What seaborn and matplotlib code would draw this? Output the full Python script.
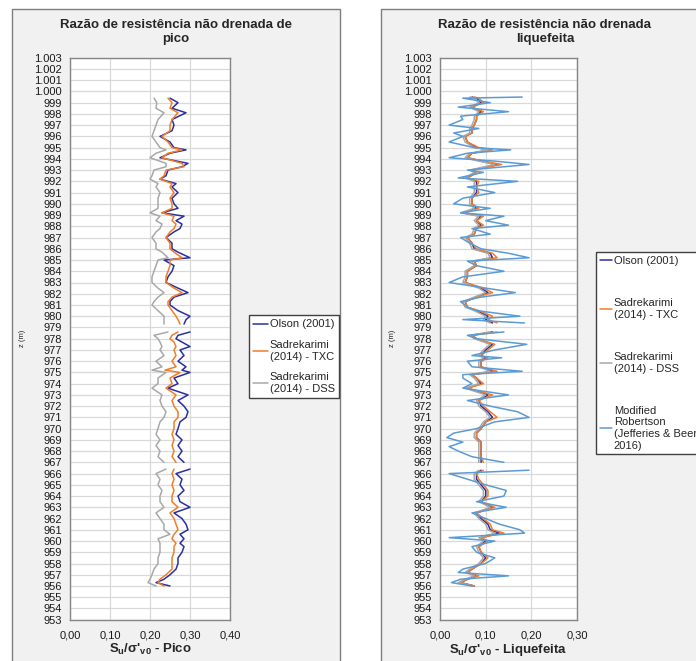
import numpy as np
import pandas as pd
import seaborn as sns
import matplotlib.pyplot as plt
from matplotlib.lines import Line2D
from matplotlib.patches import Rectangle

# Profundidades (m) - grafico de pico
pico_z = [999.4, 999.0, 998.5, 998.1, 997.5, 997.0, 996.5, 996.0, 995.5, 995.0,
          994.8, 994.5, 994.1, 993.6, 993.3, 993.0, 992.5, 992.2, 991.8, 991.5,
          991.0, 990.5, 990.0, 989.6, 989.2, 988.9, 988.5, 988.2, 987.8, 987.5,
          987.0, 986.5, 986.0, 985.7, 985.2, 985.0, 984.5, 984.0, 983.5, 983.0,
          982.5, 982.1, 981.7, 981.3, 981.0, 980.5, 980.0, 979.7, 979.3, 978.6,
          978.3, 978.0, 977.7, 977.3, 977.0, 976.5, 976.0, 975.5, 975.2, 975.0,
          974.5, 974.0, 973.6, 973.0, 972.5, 972.0, 971.5, 971.0, 970.6, 970.0,
          969.5, 969.0, 968.5, 968.0, 967.5, 967.0, 966.4, 966.0, 965.5, 965.0,
          964.5, 964.0, 963.5, 963.0, 962.5, 962.0, 961.5, 961.0, 960.6, 960.2,
          959.8, 959.5, 959.0, 958.5, 958.0, 957.5, 957.0, 956.6, 956.3, 956.0]

pico_olson = [.25, .27, .255, .29, .255, .26, .255, .225, .25, .26,
              .29, .25, .225, .295, .28, .245, .24, .225, .265, .255,
              .27, .255, .26, .27, .23, .285, .265, .28, .275, .26,
              .24, .255, .255, .27, .30, .235, .26, .255, .245, .24,
              .27, .295, .26, .25, .25, .27, .30, .29, .285, .30,
              .27, .265, .28, .30, .275, .285, .27, .29, .28, .30,
              .26, .27, .245, .295, .27, .285, .295, .29, .275, .27,
              .265, .28, .27, .28, .27, .285, .30, .265, .28, .275,
              .285, .27, .275, .30, .26, .28, .29, .295, .275, .285,
              .275, .285, .28, .27, .27, .265, .25, .235, .215, .25]

pico_txc = [.245, .255, .25, .27, .255, .25, .25, .23, .245, .255,
            .28, .245, .23, .28, .285, .24, .235, .225, .255, .25,
            .26, .25, .255, .255, .23, .26, .255, .265, .26, .25,
            .24, .25, .25, .26, .28, .25, .25, .245, .24, .24,
            .26, .28, .255, .245, .245, .255, .265, .27, .275, .27,
            .255, .25, .26, .265, .26, .265, .255, .265, .2375, .275,
            .25, .255, .24, .265, .255, .26, .27, .27, .26, .26,
            .255, .26, .255, .26, .255, .265, .26, .255, .26, .255,
            .26, .255, .255, .27, .25, .26, .265, .27, .26, .255,
            .265, .26, .26, .255, .255, .255, .24, .225, .22, .235]

pico_dss = [.21, .217, .215, .235, .22, .215, .21, .205, .215, .225,
            .24, .215, .20, .24, .24, .21, .205, .20, .22, .215,
            .225, .22, .22, .22, .20, .225, .215, .23, .225, .215,
            .205, .215, .215, .23, .245, .22, .215, .21, .205, .205,
            .22, .235, .22, .21, .205, .22, .235, .235, .235, .245,
            .21, .22, .225, .23, .225, .235, .215, .23, .205, .24,
            .22, .22, .205, .23, .225, .23, .24, .235, .225, .22,
            .215, .225, .215, .225, .22, .235, .24, .215, .225, .22,
            .23, .225, .225, .235, .215, .225, .235, .235, .25, .22,
            .225, .225, .225, .22, .22, .21, .205, .20, .195, .215]

# Profundidades (m) - grafico liquefeito
liq_z = [999.5, 999.4, 999.0, 998.6, 998.2, 997.8, 997.5, 997.0, 996.7, 996.3,
         996.0, 995.5, 995.0, 994.8, 994.5, 994.1, 993.8, 993.5, 993.0, 992.8,
         992.3, 992.0, 991.5, 991.0, 990.5, 990.0, 989.6, 989.2, 988.9, 988.5,
         988.1, 987.8, 987.3, 987.0, 986.5, 986.0, 985.6, 985.2, 984.9, 984.5,
         984.0, 983.5, 983.0, 982.5, 982.1, 981.7, 981.3, 980.8, 980.5, 980.0,
         979.7, 979.4, 978.6, 978.3, 978.0, 977.5, 977.0, 976.5, 976.3, 976.0,
         975.5, 975.1, 974.8, 974.5, 974.0, 973.6, 973.0, 972.5, 972.0, 971.5,
         971.0, 970.6, 970.0, 969.6, 969.2, 968.8, 968.4, 968.0, 967.5, 967.0,
         966.3, 966.0, 965.5, 965.0, 964.5, 964.0, 963.5, 963.0, 962.5, 962.0,
         961.5, 961.0, 960.7, 960.3, 960.0, 959.5, 959.0, 958.5, 958.0, 957.5,
         957.2, 956.9, 956.6, 956.3, 956.0]

liq_olson = [.07, .08, .09, .07, .09, .08, .08, .075, .07, .07,
             .055, .06, .08, .11, .07, .06, .09, .125, .07, .08,
             .06, .08, .08, .08, .07, .07, .08, .05, .09, .08,
             .09, .08, .075, .06, .07, .075, .11, .115, .075, .08,
             .06, .06, .055, .09, .105, .08, .055, .06, .08, .105,
             .10, .115, .115, .07, .08, .115, .10, .09, .10, .09,
             .09, .115, .07, .08, .09, .06, .105, .085, .09, .105,
             .115, .10, .09, .08, .08, .09, .09, .09, .09, .09,
             .09, .08, .08, .09, .10, .10, .09, .115, .08, .09,
             .105, .11, .13, .09, .10, .085, .09, .10, .09, .07,
             .06, .08, .06, .045, .075]

liq_txc = [.075, .085, .095, .07, .095, .08, .08, .075, .07, .07,
           .055, .06, .085, .115, .07, .06, .095, .135, .07, .08,
           .06, .085, .08, .085, .07, .07, .085, .05, .095, .08,
           .095, .08, .075, .06, .07, .08, .115, .125, .075, .08,
           .06, .06, .055, .095, .115, .08, .055, .06, .085, .115,
           .105, .125, .125, .07, .08, .12, .105, .09, .105, .09,
           .09, .125, .07, .08, .095, .06, .115, .085, .095, .11,
           .125, .10, .09, .08, .08, .09, .09, .09, .09, .095,
           .095, .08, .085, .095, .105, .105, .09, .12, .08, .095,
           .11, .115, .14, .09, .105, .085, .09, .105, .09, .07,
           .06, .085, .06, .045, .075]

liq_dss = [.065, .075, .085, .065, .085, .075, .075, .07, .065, .065,
           .05, .055, .075, .105, .065, .055, .085, .12, .065, .075,
           .055, .075, .075, .075, .065, .065, .075, .045, .085, .075,
           .085, .075, .07, .055, .065, .07, .105, .11, .07, .075,
           .055, .055, .05, .085, .10, .075, .05, .055, .075, .10,
           .095, .11, .11, .065, .075, .11, .095, .085, .095, .085,
           .085, .11, .065, .075, .085, .055, .10, .08, .085, .10,
           .11, .095, .085, .075, .075, .085, .085, .085, .085, .085,
           .085, .075, .075, .085, .095, .095, .085, .11, .075, .085,
           .10, .105, .12, .085, .095, .08, .085, .095, .085, .065,
           .055, .075, .055, .04, .07]

liq_robertson = [.18, .05, .11, .04, .15, .045, .05, .02, .085, .03,
                 .05, .02, .075, .155, .06, .02, .12, .195, .06, .095,
                 .04, .17, .06, .12, .05, .03, .11, .045, .14, .10,
                 .15, .07, .11, .045, .065, .09, .15, .195, .06, .08,
                 .14, .05, .02, .10, .165, .09, .045, .06, .08, .175,
                 .05, .185, .14, .06, .08, .19, .12, .07, .135, .06,
                 .07, .18, .05, .05, .07, .05, .15, .06, .11, .17,
                 .195, .12, .08, .03, .015, .05, .02, .04, .07, .14,
                 .195, .02, .06, .10, .145, .14, .08, .145, .07, .10,
                 .13, .175, .185, .02, .12, .07, .08, .12, .10, .05,
                 .04, .15, .045, .025, .07]

# Lacunas nos dados (m)
gaps = [979.0, 966.7]

nomes_pico = ["Olson (2001)", "Sadrekarimi\n(2014) - TXC", "Sadrekarimi\n(2014) - DSS"]
nomes_liq = ["Olson (2001)", "Sadrekarimi\n(2014) - TXC", "Sadrekarimi\n(2014) - DSS",
             "Modified\nRobertson\n(Jefferies & Beer\n2016)"]
cores = ["#2B2FA0", "#F07D2A", "#A8A8A8", "#5B9BD5"]


def monta_df(z, series, nomes):
    frames = []
    for vals, nome in zip(series, nomes):
        zz = np.array(z)
        seg = sum((zz < g).astype(int) for g in gaps)
        frames.append(pd.DataFrame({"z": zz, "su": vals, "serie": nome, "seg": seg}))
    return pd.concat(frames, ignore_index=True)


df_pico = monta_df(pico_z, [pico_olson, pico_txc, pico_dss], nomes_pico)
df_liq = monta_df(liq_z, [liq_olson, liq_txc, liq_dss, liq_robertson], nomes_liq)

sns.set_style("white")
plt.rcParams["font.family"] = ["Liberation Sans", "DejaVu Sans"]
plt.rcParams["mathtext.fontset"] = "custom"
plt.rcParams["mathtext.rm"] = "Liberation Sans"
plt.rcParams["mathtext.bf"] = "Liberation Sans:bold"

W, H = 696, 661
fig = plt.figure(figsize=(W / 100, H / 100), dpi=100)

# Fundos cinza dos paineis
fig.patches.append(Rectangle((12 / W, -0.02), 328 / W, 1.02 - 9 / H, transform=fig.transFigure,
                             facecolor="#F0F1F0", edgecolor="#7F7F7F", lw=1, zorder=-5))
fig.patches.append(Rectangle((381 / W, -0.02), 0.5, 1.02 - 9 / H, transform=fig.transFigure,
                             facecolor="#F0F1F0", edgecolor="#7F7F7F", lw=1, zorder=-5))

ax1 = fig.add_axes([70 / W, 41.3 / H, 160 / W, 562 / H])
ax2 = fig.add_axes([440 / W, 41.3 / H, 137 / W, 562 / H])


def fmt_z(v):
    v = int(round(v))
    if v >= 1000:
        return f"{v // 1000}.{v % 1000:03d}"
    return str(v)


def estilo(ax, xmax, label):
    ax.set_facecolor("white")
    ax.set_ylim(953, 1003)
    ax.set_xlim(0, xmax)
    yt = np.arange(953, 1004)
    ax.set_yticks(yt)
    ax.set_yticklabels([fmt_z(v) for v in yt])
    xt = np.arange(0, xmax + 0.001, 0.1)
    ax.set_xticks(xt)
    ax.set_xticklabels([f"{v:.2f}".replace(".", ",") for v in xt])
    ax.grid(True, color="#D9D9D9", lw=0.9)
    ax.set_axisbelow(True)
    for s in ax.spines.values():
        s.set_color("#868686")
        s.set_linewidth(1)
    ax.tick_params(axis="both", direction="out", length=4, width=1, color="#868686",
                   labelsize=8, labelcolor="#1A1A1A", pad=2)
    ax.tick_params(axis="x", pad=4)
    ax.set_xlabel(label, fontsize=9.5, fontweight="bold", labelpad=1)
    ax.set_ylabel("z (m)", fontsize=5.5, labelpad=6)


for ax, df, pal in [(ax1, df_pico, cores[:3]), (ax2, df_liq, cores)]:
    sns.lineplot(data=df, x="su", y="z", hue="serie", units="seg", estimator=None,
                 sort=False, orient="y", palette=pal, lw=1.1, legend=False, ax=ax)

estilo(ax1, 0.40, r"S$_\mathbf{u}$/σ'$_\mathbf{v0}$ - Pico")
estilo(ax2, 0.30, r"S$_\mathbf{u}$/σ'$_\mathbf{v0}$ - Liquefeita")

fig.text(176 / W, 1 - 32 / H, "Razão de resistência não drenada de\npico", ha="center", va="center",
         fontsize=9.5, fontweight="bold", linespacing=1.15)
fig.text(545 / W, 1 - 32 / H, "Razão de resistência não drenada\nliquefeita", ha="center", va="center",
         fontsize=9.5, fontweight="bold", linespacing=1.15)

h1 = [Line2D([], [], color=c, lw=1.1) for c in cores[:3]]
fig.legend(h1, nomes_pico, loc="upper left", bbox_to_anchor=(249 / W, 1 - 315 / H),
           borderaxespad=0, fontsize=8, handlelength=1.3, handletextpad=0.15,
           labelspacing=0.95, borderpad=0.4, fancybox=False, framealpha=1,
           edgecolor="#404040", facecolor="white")

h2 = [Line2D([], [], color=c, lw=1.1) for c in cores]
fig.legend(h2, nomes_liq, loc="upper left", bbox_to_anchor=(596 / W, 1 - 252 / H),
           borderaxespad=0, fontsize=8, handlelength=1.1, handletextpad=0.15,
           labelspacing=2.9, borderpad=0.35, fancybox=False, framealpha=1,
           edgecolor="#404040", facecolor="white")

fig.savefig("out.png", dpi=100)
